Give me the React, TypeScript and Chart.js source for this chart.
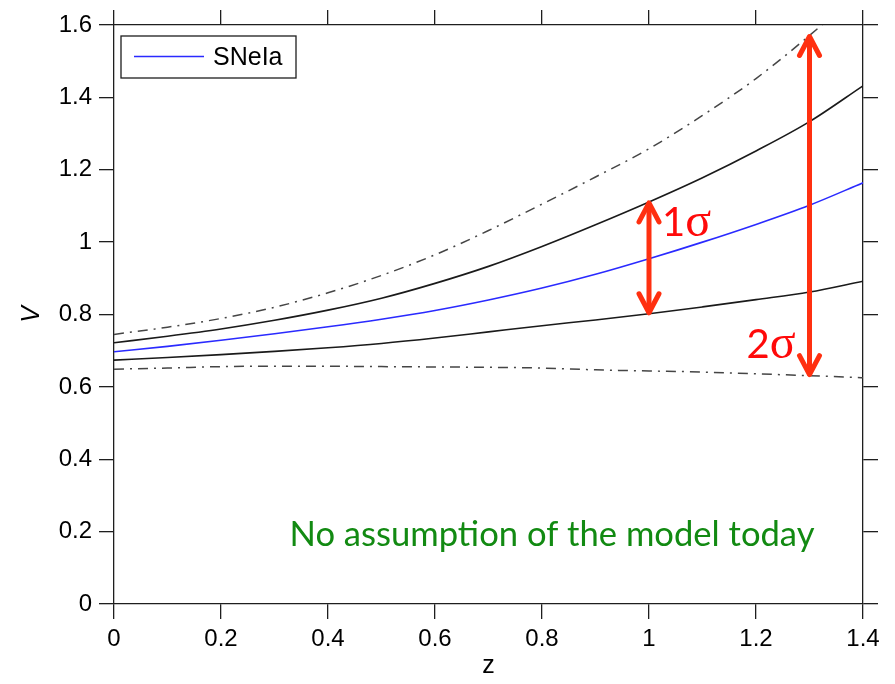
import { useEffect, useRef } from 'react';
import { Chart, registerables } from 'chart.js';

Chart.register(...registerables);

// Redshift grid
const zValues = [0, 0.1, 0.2, 0.3, 0.4, 0.5, 0.6, 0.7, 0.8, 0.9, 1.0, 1.1, 1.2, 1.3, 1.4];

// Reconstructed V(z) from supernovae, with 1σ and 2σ bands
const sneIa = [0.697, 0.712, 0.729, 0.747, 0.766, 0.787, 0.811, 0.84, 0.873, 0.911, 0.954, 1.0, 1.049, 1.102, 1.164];
const upper1Sigma = [0.722, 0.74, 0.76, 0.784, 0.812, 0.845, 0.886, 0.933, 0.988, 1.048, 1.111, 1.178, 1.252, 1.333, 1.432];
const lower1Sigma = [0.674, 0.681, 0.689, 0.698, 0.708, 0.72, 0.735, 0.752, 0.769, 0.785, 0.802, 0.821, 0.841, 0.862, 0.892];
const upper2Sigma = [0.745, 0.765, 0.789, 0.82, 0.86, 0.908, 0.965, 1.032, 1.105, 1.18, 1.258, 1.35, 1.452, 1.571, 1.7];
const lower2Sigma = [0.649, 0.652, 0.656, 0.657, 0.657, 0.656, 0.655, 0.654, 0.652, 0.647, 0.644, 0.641, 0.636, 0.631, 0.625];

// Axis ticks
const xTickValues = [0, 0.2, 0.4, 0.6, 0.8, 1.0, 1.2, 1.4];
const xTickLabels = ['0', '0.2', '0.4', '0.6', '0.8', '1', '1.2', '1.4'];
const yTickValues = [0, 0.2, 0.4, 0.6, 0.8, 1.0, 1.2, 1.4, 1.6];
const yTickLabels = ['0', '0.2', '0.4', '0.6', '0.8', '1', '1.2', '1.4', '1.6'];

const legendLabel = 'SNeIa';
const xTitle = 'z';
const yTitle = 'V';
const noteText = 'No assumption of the model today';

// Where the σ arrows sit (index into zValues) and which bands they span
const sigmaArrows = [
  { index: 10, digit: '1', top: upper1Sigma, bottom: lower1Sigma, side: 'right' },
  { index: 13, digit: '2', top: upper2Sigma, bottom: lower2Sigma, side: 'left' },
];

const SANS = '"Liberation Sans", Arial, Helvetica, sans-serif';
const AXIS_COLOR = '#1e1e1e';
const BLUE = '#2a2aff';
const ARROW_RED = '#ff3010';
const TEXT_RED = '#ff0a0a';
const GREEN = '#128a12';

const toPoints = (ys: number[]) => zValues.map((z, i) => ({ x: z, y: ys[i] }));

function drawArrow(ctx: CanvasRenderingContext2D, x: number, yTop: number, yBottom: number) {
  const head = 20;
  const half = 10;
  ctx.save();
  ctx.strokeStyle = ARROW_RED;
  ctx.lineWidth = 5;
  ctx.lineCap = 'round';
  ctx.lineJoin = 'round';
  ctx.beginPath();
  ctx.moveTo(x, yTop + 2);
  ctx.lineTo(x, yBottom - 2);
  ctx.stroke();
  ctx.beginPath();
  ctx.moveTo(x - half, yTop + head);
  ctx.lineTo(x, yTop + 1);
  ctx.lineTo(x + half, yTop + head);
  ctx.stroke();
  ctx.beginPath();
  ctx.moveTo(x - half, yBottom - head);
  ctx.lineTo(x, yBottom - 1);
  ctx.lineTo(x + half, yBottom - head);
  ctx.stroke();
  ctx.restore();
}

function drawSigmaLabel(ctx: CanvasRenderingContext2D, digit: string, x: number, baseline: number, align: 'left' | 'right') {
  ctx.save();
  ctx.fillStyle = TEXT_RED;
  ctx.textBaseline = 'alphabetic';
  ctx.textAlign = 'left';
  const digitFont = '40px Lato, "Open Sans", sans-serif';
  const sigmaFont = '48px "Liberation Serif", "DejaVu Serif", serif';
  ctx.font = digitFont;
  const dw = ctx.measureText(digit).width;
  ctx.font = sigmaFont;
  const sw = ctx.measureText('σ').width;
  const start = align === 'left' ? x : x - dw - sw;
  ctx.font = digitFont;
  ctx.fillText(digit, start, baseline);
  ctx.font = sigmaFont;
  ctx.fillText('σ', start + dw, baseline);
  ctx.restore();
}

const overlayPlugin = {
  id: 'overlay',
  afterDatasetsDraw(chart: any) {
    const { ctx, chartArea, scales } = chart;
    const xs = scales.x;
    const ys = scales.y;

    // σ arrows between the band edges
    sigmaArrows.forEach((a) => {
      const x = xs.getPixelForValue(zValues[a.index]);
      const yTop = Math.max(ys.getPixelForValue(a.top[a.index]), chartArea.top);
      const yBottom = ys.getPixelForValue(a.bottom[a.index]);
      drawArrow(ctx, x, yTop, yBottom);
      if (a.side === 'right') {
        drawSigmaLabel(ctx, a.digit, x + 13, yTop + 34, 'left');
      } else {
        drawSigmaLabel(ctx, a.digit, x - 14, yBottom - 18, 'right');
      }
    });

    // Note in the lower part of the plot
    ctx.save();
    const targetWidth = 525;
    ctx.font = '30px Lato, "Open Sans", sans-serif';
    const w = ctx.measureText(noteText).width;
    const size = (30 * targetWidth) / w;
    ctx.font = `${size.toFixed(1)}px Lato, "Open Sans", sans-serif`;
    ctx.fillStyle = GREEN;
    ctx.textAlign = 'center';
    ctx.textBaseline = 'alphabetic';
    ctx.fillText(noteText, chartArea.left + 438, chartArea.top + 521);
    ctx.restore();

    // Legend box in the upper-left corner
    ctx.save();
    const lx = chartArea.left + 7;
    const ly = chartArea.top + 11;
    ctx.fillStyle = '#ffffff';
    ctx.fillRect(lx, ly, 175, 42);
    ctx.strokeStyle = AXIS_COLOR;
    ctx.lineWidth = 1.3;
    ctx.strokeRect(lx, ly, 175, 42);
    ctx.strokeStyle = BLUE;
    ctx.lineWidth = 1.4;
    ctx.beginPath();
    ctx.moveTo(lx + 13, ly + 20.5);
    ctx.lineTo(lx + 83, ly + 20.5);
    ctx.stroke();
    ctx.fillStyle = '#000';
    ctx.font = `25px ${SANS}`;
    ctx.textBaseline = 'middle';
    ctx.textAlign = 'left';
    ctx.fillText(legendLabel, lx + 92, ly + 22);
    ctx.restore();
  },
};

export default function App() {
  const canvasRef = useRef<HTMLCanvasElement | null>(null);

  useEffect(() => {
    const canvas = canvasRef.current;
    if (!canvas) return;

    const grid = {
      drawOnChartArea: false,
      drawTicks: true,
      tickLength: 15,
      color: AXIS_COLOR,
      lineWidth: 1.3,
    };
    const border = { display: true, color: AXIS_COLOR, width: 1.3 };
    const tickFont = { family: SANS, size: 24 };

    const setXTicks = (scale: any) => {
      scale.ticks = xTickValues.map((v) => ({ value: v }));
    };
    const setYTicks = (scale: any) => {
      scale.ticks = yTickValues.map((v) => ({ value: v }));
    };

    const dashDot = [10, 6, 2, 6];

    const chart = new Chart(canvas, {
      type: 'line',
      data: {
        datasets: [
          {
            label: 'upper 2σ',
            data: toPoints(upper2Sigma),
            borderColor: '#454545',
            borderWidth: 1.5,
            borderDash: dashDot,
            pointRadius: 0,
            cubicInterpolationMode: 'monotone',
          },
          {
            label: 'lower 2σ',
            data: toPoints(lower2Sigma),
            borderColor: '#454545',
            borderWidth: 1.5,
            borderDash: dashDot,
            pointRadius: 0,
            cubicInterpolationMode: 'monotone',
          },
          {
            label: 'upper 1σ',
            data: toPoints(upper1Sigma),
            borderColor: '#1a1a1a',
            borderWidth: 1.6,
            pointRadius: 0,
            cubicInterpolationMode: 'monotone',
          },
          {
            label: 'lower 1σ',
            data: toPoints(lower1Sigma),
            borderColor: '#1a1a1a',
            borderWidth: 1.6,
            pointRadius: 0,
            cubicInterpolationMode: 'monotone',
          },
          {
            label: legendLabel,
            data: toPoints(sneIa),
            borderColor: BLUE,
            borderWidth: 1.6,
            pointRadius: 0,
            cubicInterpolationMode: 'monotone',
          },
        ],
      },
      options: {
        responsive: false,
        animation: false,
        devicePixelRatio: 1,
        layout: { padding: 0 },
        plugins: {
          legend: { display: false },
          tooltip: { enabled: false },
        },
        scales: {
          x: {
            type: 'linear',
            position: 'bottom',
            min: 0,
            max: 1.4,
            afterBuildTicks: setXTicks,
            afterFit: (s: any) => {
              s.height = 80;
            },
            grid,
            border,
            ticks: {
              font: tickFont,
              color: '#000',
              padding: 6,
              maxRotation: 0,
              autoSkip: false,
              callback: (_v: any, i: number) => xTickLabels[i],
            },
            title: {
              display: true,
              text: xTitle,
              color: '#000',
              font: { family: SANS, size: 25 },
              padding: { top: 0, bottom: 3 },
            },
          },
          xTop: {
            type: 'linear',
            position: 'top',
            min: 0,
            max: 1.4,
            afterBuildTicks: setXTicks,
            afterFit: (s: any) => {
              s.height = 25;
            },
            grid,
            border,
            ticks: { display: false },
          },
          y: {
            type: 'linear',
            position: 'left',
            min: 0,
            max: 1.6,
            afterBuildTicks: setYTicks,
            afterFit: (s: any) => {
              s.width = 114;
            },
            grid,
            border,
            ticks: {
              font: tickFont,
              color: '#000',
              padding: 7,
              autoSkip: false,
              callback: (_v: any, i: number) => yTickLabels[i],
            },
            title: {
              display: true,
              text: yTitle,
              color: '#000',
              font: { family: SANS, size: 25, style: 'italic' },
              padding: { top: 17, bottom: 0 },
            },
          },
          yRight: {
            type: 'linear',
            position: 'right',
            min: 0,
            max: 1.6,
            afterBuildTicks: setYTicks,
            afterFit: (s: any) => {
              s.width = 32;
            },
            grid,
            border,
            ticks: { display: false },
          },
        },
      },
      plugins: [overlayPlugin],
    } as any);

    return () => {
      chart.destroy();
    };
  }, []);

  return (
    <div style={{ position: 'absolute', left: 0, top: 0, width: 895, height: 684, background: '#fff' }}>
      <canvas ref={canvasRef} width={895} height={684} />
    </div>
  );
}
